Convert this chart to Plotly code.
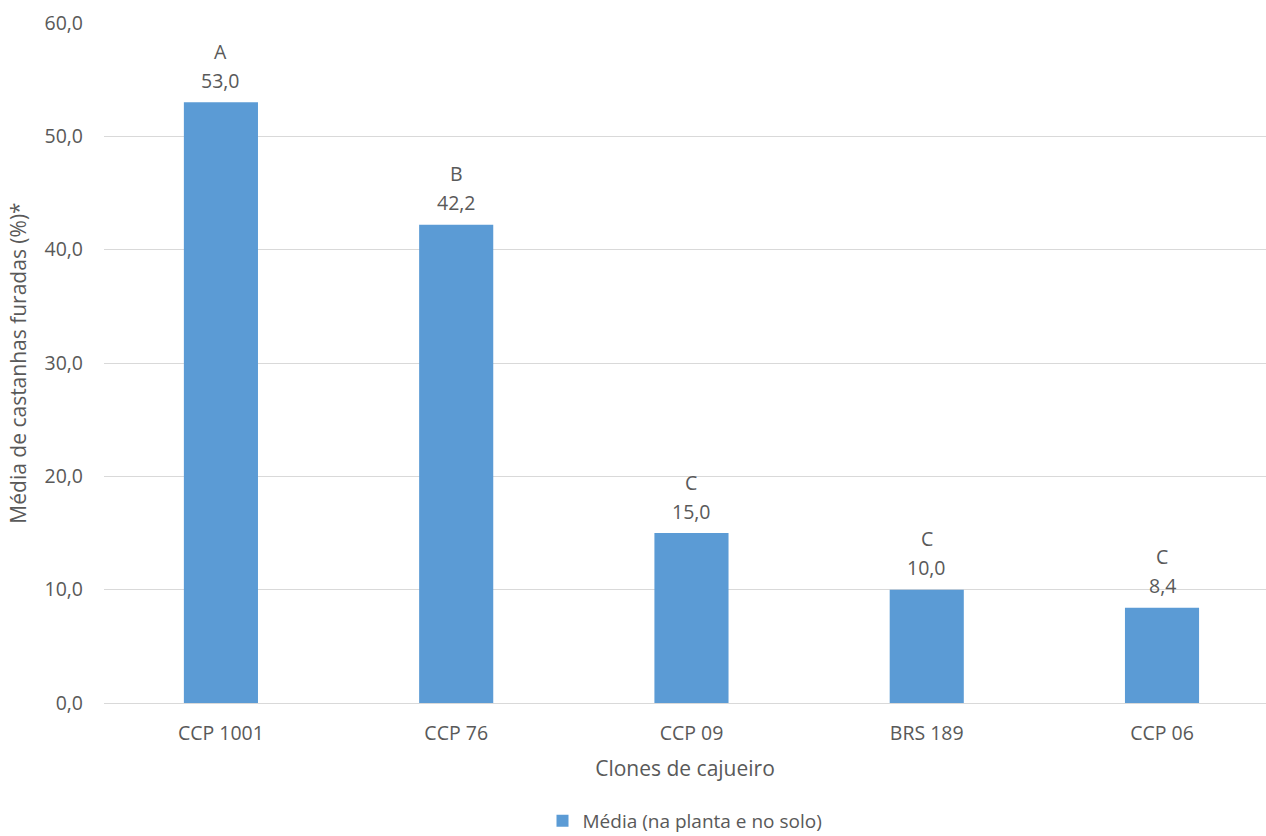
import plotly.graph_objects as go

# Clones de cajueiro e média de castanhas furadas (%)
clones = ["CCP 1001", "CCP 76", "CCP 09", "BRS 189", "CCP 06"]
media = [53.0, 42.2, 15.0, 10.0, 8.4]
letras = ["A", "B", "C", "C", "C"]
y_ticks = [0, 10, 20, 30, 40, 50, 60]

TEXT = "#595959"
FONT = "Open Sans"

fig = go.Figure()
fig.add_trace(go.Bar(
    x=clones, y=media,
    name="Média (na planta e no solo)",
    marker=dict(color="#5b9bd5", line=dict(width=0)),
    width=0.315,
))

def fmt(v):
    return f"{v:.1f}".replace(".", ",")

for c, v, l in zip(clones, media, letras):
    fig.add_annotation(x=c, y=v, text=fmt(v), showarrow=False,
                       yanchor="middle", yshift=22,
                       font=dict(family=FONT, size=19.5, color=TEXT))
    fig.add_annotation(x=c, y=v, text=l, showarrow=False,
                       yanchor="middle", yshift=51,
                       font=dict(family=FONT, size=19.5, color=TEXT))

fig.update_layout(
    width=1266, height=836,
    margin=dict(l=104, r=0, t=23, b=133, autoexpand=False),
    plot_bgcolor="white", paper_bgcolor="white",
    separators=",.",
    font=dict(family=FONT, color=TEXT, size=19.5),
    showlegend=True,
    legend=dict(orientation="h", x=0.5, xanchor="center",
                yref="container", y=0.018, yanchor="middle",
                itemwidth=30,
                font=dict(family=FONT, size=19, color=TEXT)),
)
fig.update_xaxes(
    range=[-0.497, 4.442],
    showgrid=False, showline=False, ticks="",
    tickfont=dict(family=FONT, size=19.5, color=TEXT),
    ticklabelstandoff=16,
    title=dict(text="Clones de cajueiro", standoff=16,
               font=dict(family=FONT, size=21, color=TEXT)),
)
fig.update_yaxes(
    range=[0, 60], tickvals=y_ticks, tickformat=".1f",
    showgrid=True, gridcolor="#d9d9d9", gridwidth=1,
    zeroline=True, zerolinecolor="#d9d9d9", zerolinewidth=1,
    showline=False, ticks="",
    tickfont=dict(family=FONT, size=19.5, color=TEXT),
    ticklabelstandoff=20,
    title=dict(text="Média de castanhas furadas (%)*", standoff=12,
               font=dict(family=FONT, size=21, color=TEXT)),
)

fig.write_html("out.html")
